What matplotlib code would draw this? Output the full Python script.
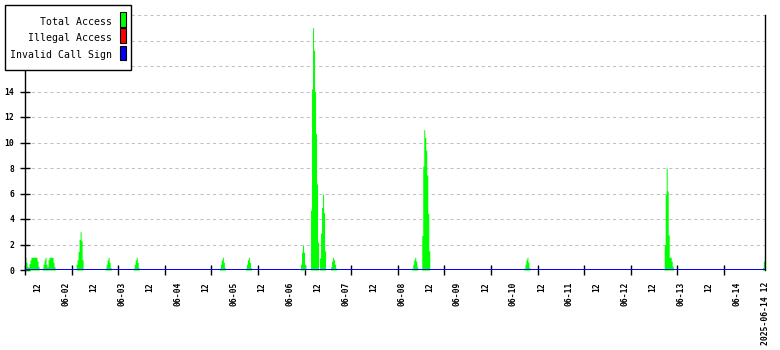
import numpy as np
import matplotlib
matplotlib.use('Agg')
import matplotlib.pyplot as plt
from matplotlib.patches import Rectangle

plt.rcParams['font.family'] = ['DejaVu Sans Mono']

# time axis in hours since 2025-06-01 00:00
T0 = 6.4
T1 = 324.0
STEP_H = 0.43          # one sample per step

# bursts of "Total Access": (start hour, values per step)
burst_starts = [6.45, 13.7, 28.4, 40.75, 52.75, 89.8, 101.0, 124.85, 128.75,
                137.75, 172.5, 176.8, 220.6, 280.7, 322.7]
burst_values = [
    [1.0, 0.6, 0.25, 0.25, 0.5, 0.8, 1.0, 1.0, 1.0, 1.0, 1.0, 1.0, 0.7, 0.3],
    [0.15, 0.45, 0.8, 1.0, 0.45, 0.25, 0.8, 1.0, 1.0, 1.0, 1.0, 0.6, 0.25],
    [0.45, 0.8, 1.45, 2.4, 3.0, 2.3, 0.8],
    [0.15, 0.45, 0.8, 1.0, 0.6, 0.2],
    [0.15, 0.45, 0.8, 1.0, 0.6, 0.2],
    [0.15, 0.45, 0.8, 1.0, 0.6, 0.2],
    [0.15, 0.45, 0.8, 1.0, 0.6, 0.2],
    [0.45, 1.4, 1.95, 1.4, 0.45],
    [4.7, 14.2, 19.0, 17.25, 14.0, 10.7, 6.75, 2.2, 0.0, 0.95, 2.9, 4.9, 5.95, 4.5, 1.5],
    [0.25, 0.7, 1.0, 0.8, 0.45, 0.15],
    [0.15, 0.45, 0.8, 1.0, 0.7, 0.25],
    [2.7, 8.15, 11.0, 10.4, 9.4, 7.45, 4.45, 1.5],
    [0.15, 0.45, 0.8, 1.0, 0.6, 0.2],
    [1.95, 5.95, 8.0, 6.2, 2.75, 1.0, 1.0, 0.7, 0.3],
    [0.2, 0.7, 1.0, 1.0],
]

legend_labels = ['Total Access', 'Illegal Access', 'Invalid Call Sign']
legend_colors = ['#00ff00', '#ff0000', '#0000ff']

# x labels every 12 hours
label_hours = [12 * k for k in range(1, 28)]
label_text = ['12' if h % 24 == 12 else '06-%02d' % (h // 24 + 1) for h in label_hours]
label_text[-1] = '2025-06-14 12'
tick_hours = [T0 + 20 * k for k in range(16)]

# build series
n = int(np.ceil((T1 - T0) / STEP_H)) + 6
t = T0 + STEP_H * np.arange(n)
total = np.zeros(n)
for start, vals in zip(burst_starts, burst_values):
    i0 = int(round((start - T0) / STEP_H))
    total[i0:i0 + len(vals)] = vals
zeros = np.zeros(n)

fig = plt.figure(figsize=(7.8, 3.5), dpi=100)
ax = fig.add_axes([25 / 780, 80 / 350, 740 / 780, 255 / 350])

ax.fill_between(t, 0, total, step='post', color=legend_colors[0], lw=0,
                antialiased=False, zorder=2)
ax.plot(t, zeros, color=legend_colors[1], lw=1.2, zorder=3)
ax.plot(t, zeros, color=legend_colors[2], lw=1.4, zorder=4)

ax.set_xlim(T0, T1)
ax.set_ylim(0, 20)

ax.set_yticks(range(0, 21, 2))
ax.yaxis.grid(True, color='#c0c0c0', linestyle=(0, (3, 3)), linewidth=0.75)
ax.set_axisbelow(True)
ax.tick_params(axis='y', direction='inout', length=6.5, width=1, pad=4.5,
               labelsize=5.8)

ax.set_xticks(label_hours)
ax.set_xticklabels(label_text, rotation=90)
ax.set_xticks(tick_hours, minor=True)
ax.tick_params(axis='x', which='major', length=0, pad=8.6, labelsize=5.8)
ax.tick_params(axis='x', which='minor', direction='inout', length=6.5, width=1)
for lab in ax.get_xticklabels() + ax.get_yticklabels():
    lab.set_fontweight('bold')

ax.spines['top'].set_visible(False)
ax.spines['bottom'].set_visible(False)
for s in ('left', 'right'):
    ax.spines[s].set_linewidth(1)

# legend box (top-left, pixel layout)
W, H = 780, 350
def fx(px):
    return px / W
def fy(py):
    return (H - py) / H

fig.patches.append(Rectangle((fx(5), fy(70)), 126 / W, 65 / H, transform=fig.transFigure,
                             facecolor='white', edgecolor='black', lw=1, zorder=5))
baselines = [25, 41, 58.5]
for lab, col, yb in zip(legend_labels, legend_colors, baselines):
    fig.text(fx(112.5), fy(yb), lab, ha='right', va='baseline', fontsize=7.1, zorder=6)
    fig.patches.append(Rectangle((fx(119.5), fy(yb + 1.5)), 6 / W, 14 / H,
                                 transform=fig.transFigure, facecolor=col,
                                 edgecolor='black', lw=0.8, zorder=6))

fig.savefig('out.png', dpi=100)
